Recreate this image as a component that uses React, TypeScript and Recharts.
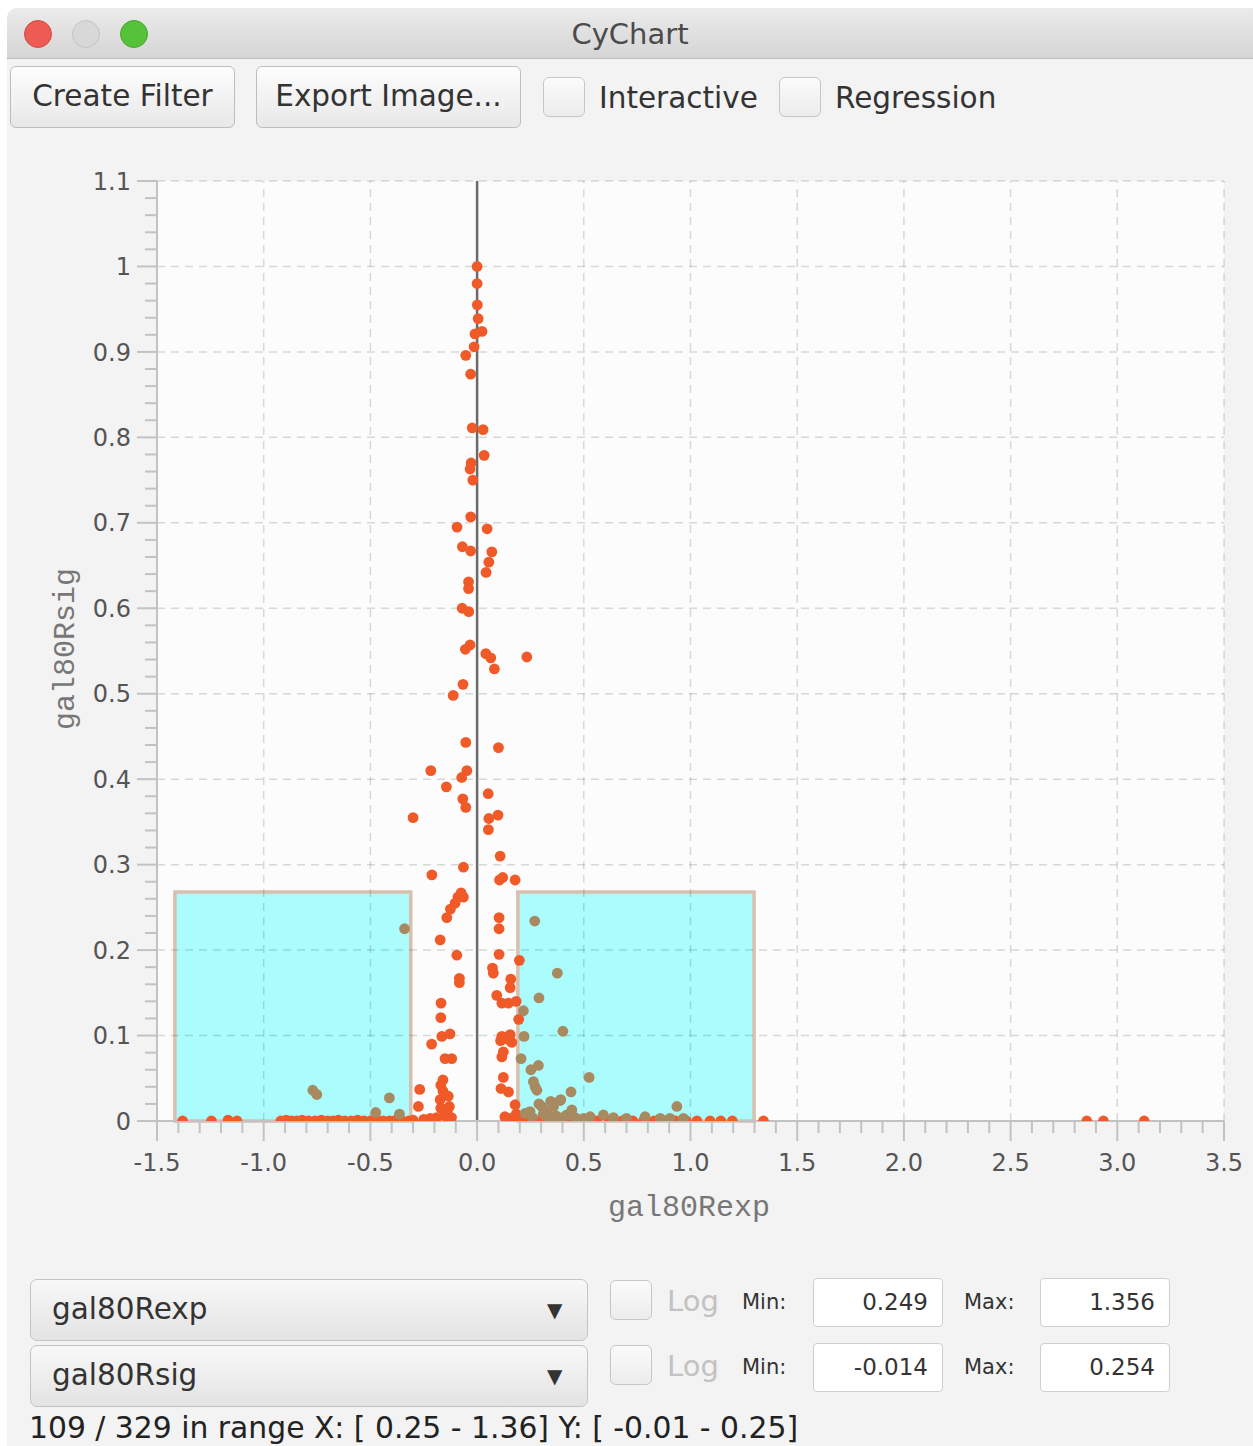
import React from "react";
import { ScatterChart, Scatter, XAxis, YAxis, ReferenceArea, ReferenceLine } from "recharts";

// points, [x, y]
const stemPoints: [number, number][] = [
  [0.0, 1.0], [0.0, 0.98], [0.001, 0.955], [0.005, 0.939], [0.023, 0.924], [-0.01, 0.921], [-0.014, 0.906],
  [-0.053, 0.896], [-0.03, 0.874], [-0.023, 0.811], [0.028, 0.809], [0.033, 0.779], [-0.028, 0.77], [-0.033, 0.763],
  [-0.02, 0.75], [-0.03, 0.707], [-0.094, 0.695], [0.047, 0.693], [-0.069, 0.672], [-0.03, 0.667], [0.069, 0.666],
  [0.055, 0.654], [0.042, 0.642], [-0.04, 0.631], [-0.04, 0.623], [-0.07, 0.6], [-0.039, 0.596], [-0.033, 0.557],
  [-0.055, 0.552], [0.041, 0.547], [0.064, 0.542], [0.233, 0.543], [0.081, 0.529], [-0.066, 0.511], [-0.112, 0.498],
  [-0.053, 0.443], [0.1, 0.437], [-0.217, 0.41], [-0.048, 0.41], [-0.072, 0.402], [-0.144, 0.391], [0.052, 0.383],
  [-0.067, 0.377], [-0.053, 0.367], [-0.3, 0.355], [0.098, 0.358], [0.055, 0.354], [0.053, 0.341], [0.108, 0.31],
  [-0.064, 0.297], [-0.212, 0.288], [0.105, 0.282], [0.12, 0.285], [0.178, 0.282], [-0.075, 0.267], [-0.064, 0.262],
  [-0.09, 0.262], [-0.103, 0.255],
];

const coreOrange: [number, number][] = [
  [-0.125, 0.248], [-0.142, 0.238], [0.103, 0.238], [0.103, 0.225], [-0.173, 0.212], [-0.095, 0.194], [0.103, 0.195],
  [0.198, 0.188], [0.072, 0.179], [0.076, 0.173], [-0.083, 0.167], [-0.083, 0.162], [0.158, 0.166], [0.155, 0.156],
  [0.092, 0.147], [-0.169, 0.138], [0.116, 0.138], [0.147, 0.138], [0.183, 0.14], [-0.17, 0.121], [0.195, 0.119],
  [-0.165, 0.099], [-0.127, 0.102], [0.116, 0.099], [0.155, 0.101], [0.162, 0.092], [0.11, 0.094], [0.14, 0.096],
  [-0.213, 0.09], [0.123, 0.081], [0.116, 0.075], [-0.15, 0.073], [-0.119, 0.073], [0.123, 0.051], [-0.269, 0.037],
  [0.112, 0.038], [0.147, 0.034], [0.178, 0.019], [0.183, 0.008], [-0.17, 0.042], [-0.16, 0.048], [-0.16, 0.035],
  [-0.135, 0.029], [-0.173, 0.025], [-0.13, 0.017], [-0.17, 0.015], [-0.14, 0.011], [-0.275, 0.017], [-0.15, 0.006],
  [-0.19, 0.004], [-0.22, 0.003], [-0.25, 0.002], [-0.12, 0.004], [0.15, 0.003], [0.13, 0.005], [0.175, 0.002],
];

const baselineOrange: [number, number][] = [
  [-1.38, 0.0], [-1.245, 0.0], [-1.167, 0.001], [-1.125, 0.0], [-0.92, 0.0], [-0.895, 0.001], [-0.87, 0.0],
  [-0.845, 0.0], [-0.82, 0.001], [-0.79, 0.0], [-0.76, 0.0], [-0.73, 0.001], [-0.7, 0.0], [-0.675, 0.0],
  [-0.65, 0.001], [-0.62, 0.0], [-0.59, 0.0], [-0.56, 0.001], [-0.53, 0.0], [-0.5, 0.0], [-0.47, 0.001],
  [-0.44, 0.0], [-0.41, 0.0], [-0.38, 0.001], [-0.35, 0.0], [-0.32, 0.0], [-0.3, 0.001], [0.21, 0.0],
  [0.24, 0.0], [0.28, 0.0], [0.33, 0.0], [0.38, 0.0], [0.44, 0.0], [0.5, 0.0], [0.56, 0.0], [0.62, 0.0],
  [0.68, 0.0], [0.73, 0.0], [0.78, 0.0], [0.83, 0.0], [0.88, 0.0], [0.93, 0.0], [0.98, 0.0], [1.03, 0.0],
  [1.092, 0.0], [1.142, 0.0], [1.196, 0.0], [1.342, 0.0], [2.857, 0.0], [2.935, 0.0], [3.126, 0.0],
];

const selectedPoints: [number, number][] = [
  [-0.34, 0.225], [-0.77, 0.036], [-0.751, 0.031], [-0.411, 0.027], [-0.475, 0.01], [-0.364, 0.008],
  [0.27, 0.234], [0.376, 0.173], [0.29, 0.144], [0.217, 0.129], [0.402, 0.105], [0.22, 0.099], [0.206, 0.073],
  [0.252, 0.06], [0.287, 0.065], [0.525, 0.051], [0.264, 0.046], [0.272, 0.04], [0.28, 0.036], [0.44, 0.034],
  [0.392, 0.025], [0.936, 0.017], [0.389, 0.024], [0.345, 0.023], [0.303, 0.017], [0.358, 0.017], [0.444, 0.013],
  [0.248, 0.011], [0.225, 0.009], [0.327, 0.011], [0.29, 0.02], [0.31, 0.008], [0.37, 0.006], [0.42, 0.007],
  [0.26, 0.004], [0.34, 0.003], [0.4, 0.004], [0.46, 0.004], [0.5, 0.003], [0.53, 0.005], [0.592, 0.007],
  [0.639, 0.004], [0.7, 0.003], [0.787, 0.005], [0.858, 0.003], [0.904, 0.003], [0.967, 0.003],
];

// selection rectangles [x1, x2, y1, y2]
const selections: [number, number, number, number][] = [
  [-1.416, -0.311, 0, 0.268],
  [0.191, 1.298, 0, 0.268],
];

const xMajor = [-1.5, -1.0, -0.5, 0.0, 0.5, 1.0, 1.5, 2.0, 2.5, 3.0, 3.5];
const yMajor = [0, 0.1, 0.2, 0.3, 0.4, 0.5, 0.6, 0.7, 0.8, 0.9, 1, 1.1];
const xTicks = Array.from({ length: 51 }, (_, i) => +(-1.5 + i * 0.1).toFixed(1));
const yTicks = Array.from({ length: 56 }, (_, i) => +(i * 0.02).toFixed(2));

const ORANGE = "#f05a28";
const BROWN = "#a88a60";
const AXIS = "#c2c2c2";
const UI_FONT = '"DejaVu Sans", sans-serif';

const toXY = (pts: [number, number][]) => pts.map(([x, y]) => ({ x, y }));
const isMajor = (v: number, step: number) => Math.abs(v / step - Math.round(v / step)) < 1e-6;

function XTick({ x, y, payload }: any) {
  const v = payload.value;
  const major = isMajor(v, 0.5);
  return (
    <g>
      <line x1={x} x2={x} y1={y} y2={y + (major ? 20 : 12)} stroke={AXIS} strokeWidth={2} />
      {major && (
        <text x={x} y={y + 50} textAnchor="middle" fontSize={24} fill="#555" fontFamily={UI_FONT}>
          {v.toFixed(1)}
        </text>
      )}
    </g>
  );
}

function YTick({ x, y, payload }: any) {
  const v = payload.value;
  const major = isMajor(v, 0.1);
  return (
    <g>
      <line x1={x - (major ? 20 : 12)} x2={x} y1={y} y2={y} stroke={AXIS} strokeWidth={2} />
      {major && (
        <text x={x - 26} y={y} dy="0.36em" textAnchor="end" fontSize={24} fill="#555" fontFamily={UI_FONT}>
          {String(v)}
        </text>
      )}
    </g>
  );
}

const dot = (color: string) => (p: any) => <circle cx={p.cx} cy={p.cy} r={5.4} fill={color} />;

function Button({ left, width, label }: { left: number; width: number; label: string }) {
  return (
    <div style={{
      position: "absolute", left, top: 66, width, height: 62, boxSizing: "border-box",
      border: "1.5px solid #bdbdbd", borderRadius: 6, background: "linear-gradient(#fdfdfd, #e8e8e8)",
      fontSize: 29.5, lineHeight: "59px", textAlign: "center", color: "#333",
    }}>{label}</div>
  );
}

function Check({ left, top, size = 42 }: { left: number; top: number; size?: number }) {
  return (
    <div style={{
      position: "absolute", left, top, width: size, height: size - 2, boxSizing: "border-box",
      border: "1.5px solid #c6c6c6", borderRadius: 6, background: "linear-gradient(#fbfbfb, #ececec)",
    }} />
  );
}

function Combo({ top, label }: { top: number; label: string }) {
  return (
    <div style={{
      position: "absolute", left: 30, top, width: 558, height: 62, boxSizing: "border-box",
      border: "1.5px solid #c4c4c4", borderRadius: 7, background: "linear-gradient(#f8f8f8, #e3e3e3)",
      color: "#333",
    }}>
      <span style={{ position: "absolute", left: 21, top: 0, lineHeight: "58px", fontSize: 29.5 }}>{label}</span>
      <span style={{ position: "absolute", left: 516, top: 0, lineHeight: "60px", fontSize: 20 }}>▼</span>
    </div>
  );
}

function Field({ left, top, value }: { left: number; top: number; value: string }) {
  return (
    <div style={{
      position: "absolute", left, top, width: 130, height: 49, boxSizing: "border-box",
      border: "1.5px solid #cfcfcf", borderRadius: 4, background: "#fff", textAlign: "right",
      paddingRight: 14, fontSize: 23, lineHeight: "46px", color: "#333",
    }}>{value}</div>
  );
}

function RangeRow({ top, min, max }: { top: number; min: string; max: string }) {
  return (
    <>
      <Check left={610} top={top + 2} />
      <div style={{ position: "absolute", left: 667, top: top, lineHeight: "46px", fontSize: 29, color: "#c2c2c2" }}>Log</div>
      <div style={{ position: "absolute", left: 742, top: top + 1, lineHeight: "46px", fontSize: 21, color: "#333" }}>Min:</div>
      <Field left={813} top={top} value={min} />
      <div style={{ position: "absolute", left: 964, top: top + 1, lineHeight: "46px", fontSize: 21, color: "#333" }}>Max:</div>
      <Field left={1040} top={top} value={max} />
    </>
  );
}

export default function App() {
  return (
    <div style={{ position: "absolute", left: 0, top: 0, width: 1253, height: 1446, background: "#fff", overflow: "hidden", fontFamily: UI_FONT }}>
      <div style={{ position: "absolute", left: 7, top: 8, width: 1246, height: 1438, background: "#f3f3f3", borderTopLeftRadius: 10 }} />
      {/* title bar */}
      <div style={{
        position: "absolute", left: 7, top: 8, width: 1246, height: 50, borderTopLeftRadius: 10,
        background: "linear-gradient(#ebebeb, #d5d5d5)", borderBottom: "1px solid #bcbcbc",
      }} />
      {[["#ee5b53", "#d44a42"], ["#d8d8d8", "#c4c4c4"], ["#56c23a", "#45a52b"]].map(([c, b], i) => (
        <div key={i} style={{
          position: "absolute", left: 24 + i * 48, top: 20, width: 28, height: 28, borderRadius: 14,
          background: c, boxSizing: "border-box", border: `1px solid ${b}`,
        }} />
      ))}
      <div style={{ position: "absolute", left: 0, width: 1260, top: 8, lineHeight: "52px", textAlign: "center", fontSize: 29, color: "#4b4b4b" }}>CyChart</div>

      {/* toolbar */}
      <Button left={10} width={225} label="Create Filter" />
      <Button left={256} width={265} label="Export Image..." />
      <Check left={543} top={77} />
      <div style={{ position: "absolute", left: 599, top: 72, lineHeight: "52px", fontSize: 29.5, color: "#333" }}>Interactive</div>
      <Check left={779} top={77} />
      <div style={{ position: "absolute", left: 835, top: 72, lineHeight: "52px", fontSize: 29.5, color: "#333" }}>Regression</div>

      {/* chart */}
      <div style={{ position: "absolute", left: 0, top: 0 }}>
        <ScatterChart width={1253} height={1260} margin={{ top: 181, right: 29, bottom: 79, left: 0 }}>
          <XAxis
            type="number" dataKey="x" domain={[-1.5, 3.5]} ticks={xTicks} interval={0} allowDataOverflow
            height={60} tickSize={0} tickMargin={0} tick={<XTick />} axisLine={{ stroke: AXIS, strokeWidth: 2 }}
          />
          <YAxis
            type="number" dataKey="y" domain={[0, 1.1]} ticks={yTicks} interval={0} allowDataOverflow
            width={157} tickSize={0} tickMargin={0} tick={<YTick />} axisLine={{ stroke: AXIS, strokeWidth: 2 }}
          />
          <ReferenceArea x1={-1.5} x2={3.5} y1={0} y2={1.1} fill="#fcfcfc" fillOpacity={1} stroke="none" />
          {selections.map(([x1, x2, y1, y2], i) => (
            <ReferenceArea key={i} x1={x1} x2={x2} y1={y1} y2={y2} fill="#abfcfd" fillOpacity={1} stroke="#d8bfae" strokeWidth={3.5} />
          ))}
          {yMajor.slice(1).map((v) => (
            <ReferenceLine key={"y" + v} y={v} stroke="rgba(0,0,0,0.14)" strokeWidth={1.5} strokeDasharray="8 6" />
          ))}
          {xMajor.slice(1).map((v) => (
            <ReferenceLine key={"x" + v} x={v} stroke="rgba(0,0,0,0.14)" strokeWidth={1.5} strokeDasharray="8 6" />
          ))}
          <ReferenceLine x={0} stroke="#6a6a6a" strokeWidth={2.5} />
          <Scatter data={toXY(baselineOrange)} fill={ORANGE} shape={dot(ORANGE)} isAnimationActive={false} />
          <Scatter data={toXY(stemPoints)} fill={ORANGE} shape={dot(ORANGE)} isAnimationActive={false} />
          <Scatter data={toXY(coreOrange)} fill={ORANGE} shape={dot(ORANGE)} isAnimationActive={false} />
          <Scatter data={toXY(selectedPoints)} fill={BROWN} shape={dot(BROWN)} isAnimationActive={false} />
        </ScatterChart>
      </div>

      {/* axis titles */}
      <div style={{
        position: "absolute", left: 66 - 100, top: 649 - 20, width: 200, lineHeight: "40px", textAlign: "center",
        transform: "rotate(-90deg)", fontFamily: '"Liberation Mono", monospace', fontSize: 30, color: "#777",
      }}>gal80Rsig</div>
      <div style={{
        position: "absolute", left: 589, top: 1188, width: 200, lineHeight: "40px", textAlign: "center",
        fontFamily: '"Liberation Mono", monospace', fontSize: 30, color: "#777",
      }}>gal80Rexp</div>

      {/* bottom controls */}
      <Combo top={1279} label="gal80Rexp" />
      <Combo top={1345} label="gal80Rsig" />
      <RangeRow top={1278} min="0.249" max="1.356" />
      <RangeRow top={1343} min="-0.014" max="0.254" />
      <div style={{ position: "absolute", left: 29, top: 1407, lineHeight: "42px", fontSize: 29.8, color: "#222", whiteSpace: "nowrap" }}>
        109 / 329 in range X: [ 0.25 - 1.36] Y: [ -0.01 - 0.25]
      </div>
    </div>
  );
}
